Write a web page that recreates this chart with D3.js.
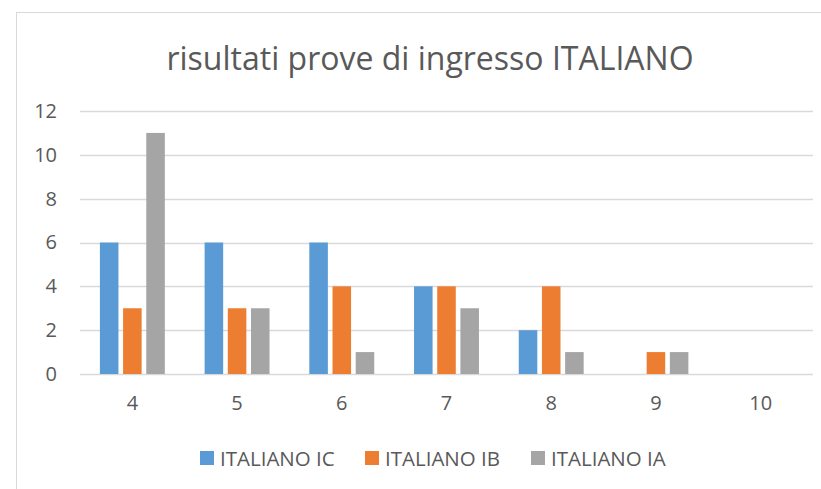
<!DOCTYPE html>
<html>
<head>
<meta charset="utf-8">
<script src="https://cdn.jsdelivr.net/npm/d3@7"></script>
<style>
  body { margin: 0; background: #fff; }
  text { font-family: "Open Sans", sans-serif; fill: #595959; }
</style>
</head>
<body>
<div class="chart"></div>
<script>
const categories = ['4', '5', '6', '7', '8', '9', '10'];
const seriesNames = ['ITALIANO IC', 'ITALIANO IB', 'ITALIANO IA'];
const italianoIC = [6, 6, 6, 4, 2, 0, 0];
const italianoIB = [3, 3, 4, 4, 4, 1, 0];
const italianoIA = [11, 3, 1, 3, 1, 1, 0];
const yTicks = [0, 2, 4, 6, 8, 10, 12];
const colors = ['#5B9BD5', '#ED7D31', '#A5A5A5'];

const seriesValues = [italianoIC, italianoIB, italianoIA];
const data = categories.map((c, i) => ({
    cat: c,
    vals: seriesNames.map((s, j) => ({ key: s, value: seriesValues[j][i] }))
}));

const W = 821, H = 489;
const margin = {top: 111, left: 80, bottom: 115, right: 8};
const width = W - margin.left - margin.right;
const height = H - margin.top - margin.bottom;

const root = d3.select('.chart')
    .append('svg')
    .attr('width', W)
    .attr('height', H);

// chart frame (runs off the right and bottom edges)
root.append('rect')
    .attr('x', 16.5)
    .attr('y', 12.5)
    .attr('width', 900)
    .attr('height', 600)
    .attr('fill', 'none')
    .attr('stroke', '#d9d9d9')
    .attr('stroke-width', 1);

root.append('text')
    .attr('x', 430)
    .attr('y', 70)
    .attr('text-anchor', 'middle')
    .attr('font-size', 32)
    .text('risultati prove di ingresso ITALIANO');

const svg = root.append('g')
    .attr('transform', 'translate(' + margin.left + ',' + margin.top + ')');

const xScale = d3.scaleBand()
    .domain(categories)
    .range([0, width])
    .paddingInner(0.38)
    .paddingOuter(0.19);

const x1 = d3.scaleBand()
    .domain(seriesNames)
    .range([0, xScale.bandwidth()])
    .paddingInner(0.2);

const yScale = d3.scaleLinear()
    .domain([0, 12])
    .range([height, 0]);

// gridlines
svg.append('g')
    .selectAll('line')
    .data(yTicks)
    .enter()
    .append('line')
    .attr('x1', 0)
    .attr('x2', width)
    .attr('y1', d => Math.round(yScale(d)) + 0.5)
    .attr('y2', d => Math.round(yScale(d)) + 0.5)
    .attr('stroke', '#d9d9d9')
    .attr('stroke-width', 1.5);

const yAxis = d3.axisLeft(yScale)
    .tickValues(yTicks)
    .tickSize(0)
    .tickPadding(23);

svg.append('g')
    .call(yAxis)
    .call(g => g.select('.domain').remove())
    .selectAll('text')
    .attr('font-size', 20)
    .style('font-family', '"Open Sans", sans-serif')
    .attr('fill', '#595959');

const xAxis = d3.axisBottom(xScale)
    .tickSize(0)
    .tickPadding(22);

svg.append('g')
    .attr('transform', `translate(0, ${height})`)
    .call(xAxis)
    .call(g => g.select('.domain').remove())
    .selectAll('text')
    .attr('font-size', 20)
    .style('font-family', '"Open Sans", sans-serif')
    .attr('fill', '#595959');

const groups = svg.selectAll('.grp')
    .data(data)
    .enter()
    .append('g')
    .attr('transform', d => 'translate(' + xScale(d.cat) + ',0)');

groups.selectAll('rect')
    .data(d => d.vals.filter(v => v.value > 0))
    .enter()
    .append('rect')
    .attr('x', d => x1(d.key))
    .attr('width', x1.bandwidth())
    .attr('y', d => yScale(d.value))
    .attr('height', d => height - yScale(d.value))
    .style('fill', (d) => colors[seriesNames.indexOf(d.key)]);

// legend
const legendX = [200, 365, 531];
const legend = root.selectAll('.legend')
    .data(seriesNames)
    .enter()
    .append('g')
    .attr('transform', (d, i) => 'translate(' + legendX[i] + ',451)');

legend.append('rect')
    .attr('width', 14)
    .attr('height', 14)
    .style('fill', (d, i) => colors[i]);

legend.append('text')
    .attr('x', 20)
    .attr('y', 14.5)
    .attr('font-size', 20.5)
    .text(d => d);
</script>
</body>
</html>
